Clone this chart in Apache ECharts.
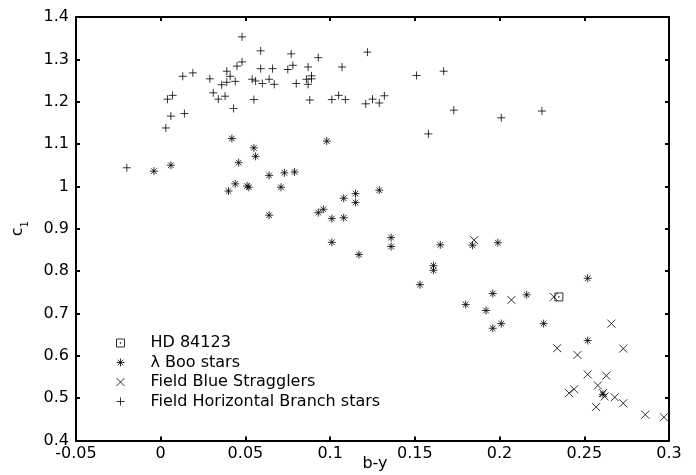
<!DOCTYPE html>
<html>
<head>
<meta charset="utf-8">
<script src="https://cdn.jsdelivr.net/npm/echarts@6/dist/echarts.min.js"></script>
<style>
  html, body { margin: 0; padding: 0; background: #fff; }
  #chart { width: 696px; height: 475px; }
</style>
</head>
<body>
<div id="chart"></div>
<script>
// b-y vs c1 values
const hdStar = [[0.235, 0.739]];

const lamBoo = [
  [0.042, 1.113], [0.098, 1.107], [0.055, 1.091], [0.056, 1.071], [0.046, 1.056],
  [-0.004, 1.036], [0.006, 1.05], [0.064, 1.026], [0.073, 1.032], [0.079, 1.034],
  [0.044, 1.006], [0.04, 0.989], [0.051, 1.001], [0.052, 0.998], [0.071, 0.998],
  [0.064, 0.932], [0.093, 0.938], [0.096, 0.946], [0.101, 0.924], [0.108, 0.926],
  [0.108, 0.972], [0.115, 0.983], [0.115, 0.962], [0.129, 0.991], [0.101, 0.868],
  [0.117, 0.839], [0.136, 0.879], [0.136, 0.858], [0.165, 0.862], [0.184, 0.861],
  [0.199, 0.867], [0.161, 0.813], [0.161, 0.802], [0.153, 0.768], [0.18, 0.721],
  [0.192, 0.707], [0.196, 0.747], [0.196, 0.665], [0.201, 0.676], [0.216, 0.744],
  [0.226, 0.676], [0.252, 0.783], [0.252, 0.636], [0.261, 0.509]
];

const blueStragglers = [
  [0.185, 0.873], [0.207, 0.732], [0.232, 0.739], [0.234, 0.618], [0.246, 0.602],
  [0.266, 0.676], [0.273, 0.617], [0.252, 0.556], [0.263, 0.553], [0.241, 0.512],
  [0.244, 0.521], [0.258, 0.53], [0.261, 0.512], [0.262, 0.504], [0.268, 0.502],
  [0.273, 0.488], [0.257, 0.479], [0.286, 0.461], [0.297, 0.455]
];

const hbStars = [
  [0.048, 1.353], [0.059, 1.32], [0.077, 1.313], [0.093, 1.304], [0.122, 1.317],
  [0.048, 1.294], [0.045, 1.284], [0.059, 1.278], [0.066, 1.278], [0.075, 1.276],
  [0.078, 1.286], [0.087, 1.282], [0.107, 1.282], [0.013, 1.26], [0.019, 1.268],
  [0.029, 1.254], [0.039, 1.272], [0.041, 1.26], [0.036, 1.24], [0.039, 1.246],
  [0.044, 1.248], [0.054, 1.253], [0.056, 1.249], [0.06, 1.243], [0.064, 1.253],
  [0.067, 1.241], [0.08, 1.243], [0.086, 1.253], [0.089, 1.261], [0.087, 1.241],
  [0.089, 1.254], [0.004, 1.206], [0.007, 1.215], [0.031, 1.221], [0.034, 1.206],
  [0.038, 1.213], [0.055, 1.205], [0.088, 1.204], [0.101, 1.205], [0.105, 1.215],
  [0.109, 1.205], [0.121, 1.195], [0.125, 1.206], [0.129, 1.197], [0.132, 1.214],
  [0.006, 1.166], [0.014, 1.172], [0.043, 1.184], [0.003, 1.138], [-0.02, 1.044],
  [0.151, 1.262], [0.167, 1.272], [0.173, 1.18], [0.158, 1.124], [0.201, 1.162],
  [0.225, 1.178]
];

// gnuplot style point shapes
const plusPath = 'path://M0,5L10,5M5,0L5,10';
const starPath = 'path://M0,5L10,5M5,0L5,10M1.5,1.5L8.5,8.5M1.5,8.5L8.5,1.5';
const crossPath = 'path://M0,0L10,10M0,10L10,0';
const boxPath = 'path://M0,0L10,0L10,10L0,10ZM4.6,4.6L5.4,4.6L5.4,5.4L4.6,5.4Z';

const font = 'DejaVu Sans, sans-serif';
const lineStyle = { color: '#000', width: 2 };

function pointStyle() {
  return { color: 'rgba(0,0,0,0)', borderColor: '#000', borderWidth: 1 };
}

const chart = echarts.init(document.getElementById('chart'));

const option = {
  animation: false,
  backgroundColor: '#fff',
  grid: { left: 76, right: 27, top: 17, bottom: 34.5, containLabel: false, outerBoundsMode: 'none' },
  legend: {
    orient: 'vertical',
    left: 111,
    top: 330,
    itemWidth: 50,
    itemHeight: 8,
    itemGap: 3.5,
    selectedMode: false,
    itemStyle: { color: 'rgba(0,0,0,0)', borderColor: '#000', borderWidth: 1 },
    textStyle: { fontFamily: font, fontSize: 16, color: '#000', lineHeight: 16 },
    data: ['HD 84123', 'λ Boo stars', 'Field Blue Stragglers', 'Field Horizontal Branch stars']
  },
  xAxis: [
    {
      type: 'value', min: -0.05, max: 0.3, interval: 0.05,
      name: 'b-y', nameLocation: 'middle', nameGap: 15, nameMoveOverlap: false,
      nameTextStyle: { fontFamily: font, fontSize: 16, color: '#000', verticalAlign: 'top', padding: [0, 0, 0, 5] },
      axisLine: { onZero: false, lineStyle: lineStyle },
      axisTick: { inside: true, length: 4, lineStyle: lineStyle },
      axisLabel: { fontFamily: font, fontSize: 16, color: '#000', margin: 5 },
      splitLine: { show: false }
    },
    {
      type: 'value', position: 'top', min: -0.05, max: 0.3, interval: 0.05,
      axisLine: { onZero: false, lineStyle: lineStyle },
      axisTick: { inside: true, length: 4, lineStyle: lineStyle },
      axisLabel: { show: false },
      splitLine: { show: false }
    }
  ],
  yAxis: [
    {
      type: 'value', min: 0.4, max: 1.4, interval: 0.1,
      name: '{c|c}{s|1}', nameLocation: 'middle', nameGap: 50, nameRotate: 90,
      nameTextStyle: {
        fontFamily: font, color: '#000',
        rich: {
          c: { fontFamily: font, fontSize: 16, color: '#000', lineHeight: 20, verticalAlign: 'bottom' },
          s: { fontFamily: font, fontSize: 10, color: '#000', lineHeight: 20, verticalAlign: 'bottom', padding: [0, 0, -4, 0] }
        }
      },
      axisLine: { onZero: false, lineStyle: lineStyle },
      axisTick: { inside: true, length: 4, lineStyle: lineStyle },
      axisLabel: { fontFamily: font, fontSize: 16, color: '#000', margin: 7 },
      splitLine: { show: false }
    },
    {
      type: 'value', position: 'right', min: 0.4, max: 1.4, interval: 0.1,
      axisLine: { onZero: false, lineStyle: lineStyle },
      axisTick: { inside: true, length: 4, lineStyle: lineStyle },
      axisLabel: { show: false },
      splitLine: { show: false }
    }
  ],
  series: [
    {
      name: 'Field Horizontal Branch stars', type: 'scatter',
      symbol: plusPath, symbolSize: 8, itemStyle: pointStyle(), data: hbStars
    },
    {
      name: 'λ Boo stars', type: 'scatter',
      symbol: starPath, symbolSize: 8, itemStyle: pointStyle(), data: lamBoo
    },
    {
      name: 'Field Blue Stragglers', type: 'scatter',
      symbol: crossPath, symbolSize: 8, itemStyle: pointStyle(), data: blueStragglers
    },
    {
      name: 'HD 84123', type: 'scatter',
      symbol: boxPath, symbolSize: 8, itemStyle: pointStyle(), data: hdStar
    }
  ]
};

chart.setOption(option);
</script>
</body>
</html>
